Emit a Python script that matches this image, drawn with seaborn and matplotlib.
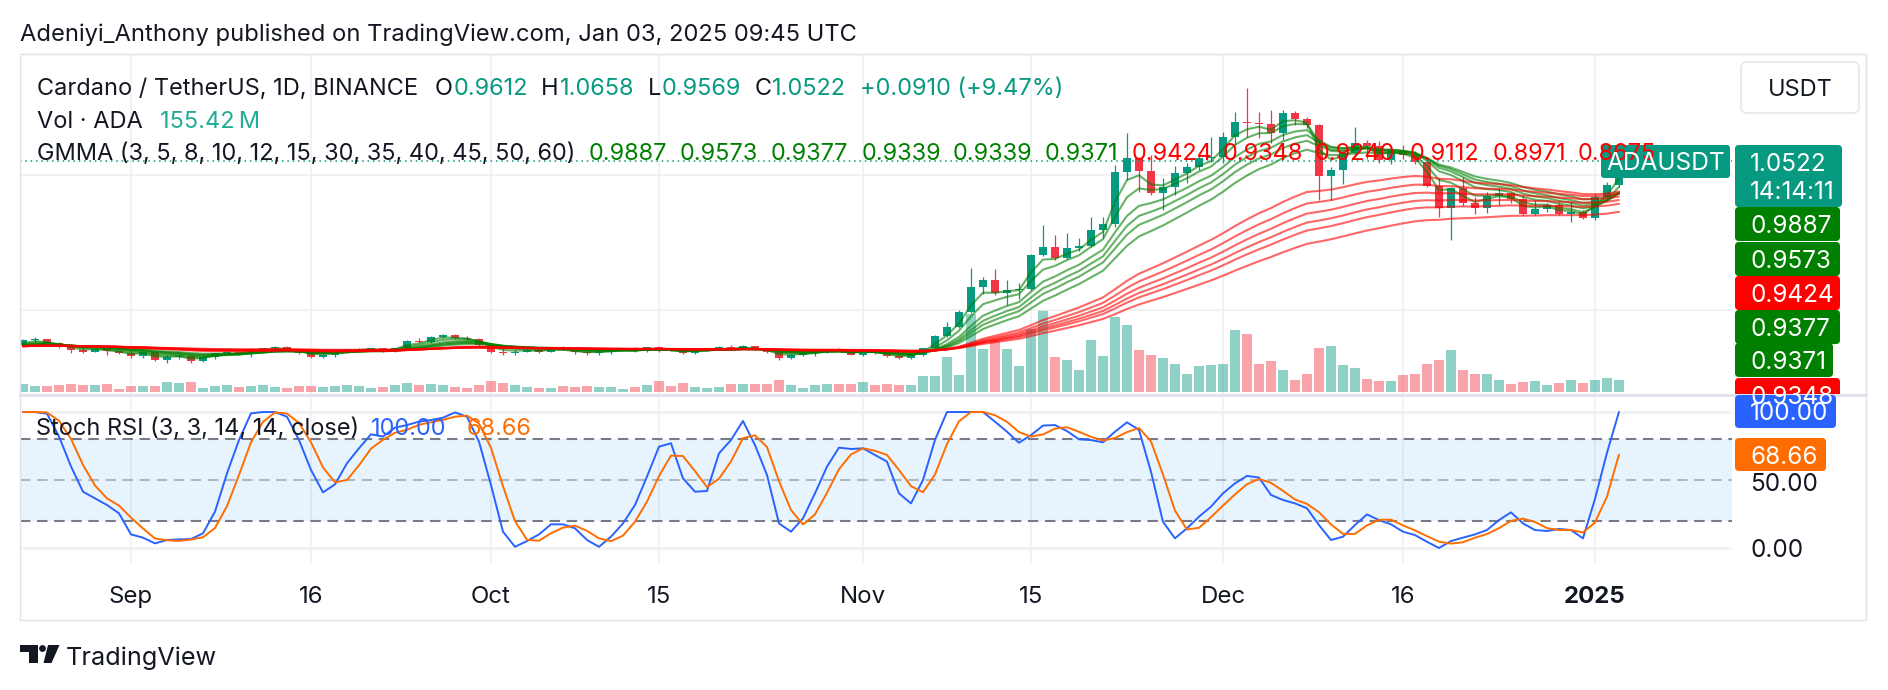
import numpy as np
import pandas as pd
import matplotlib
matplotlib.use("Agg")
import matplotlib.pyplot as plt
from matplotlib.patches import Rectangle, FancyBboxPatch, Polygon, Circle
import seaborn as sns

sns.set_theme(style="white")
plt.rcParams['font.family'] = ['Inter', 'DejaVu Sans']

# ---------------- data ----------------
start_date = "2024-08-23"
opens = [0.370, 0.389, 0.392, 0.378, 0.362, 0.352, 0.345, 0.357, 0.347,
         0.341, 0.328, 0.344, 0.314, 0.327, 0.330, 0.311, 0.325, 0.340, 0.343,
         0.339, 0.354, 0.358, 0.364, 0.354, 0.340, 0.326, 0.335, 0.343, 0.354,
         0.357, 0.359, 0.347, 0.358, 0.386, 0.382, 0.401, 0.407, 0.397, 0.391,
         0.372, 0.346, 0.340, 0.346, 0.352, 0.346, 0.357, 0.353, 0.343, 0.339,
         0.346, 0.350, 0.354, 0.349, 0.362, 0.352, 0.349, 0.340, 0.351, 0.354,
         0.362, 0.355, 0.365, 0.354, 0.346, 0.321, 0.333, 0.339, 0.345, 0.355,
         0.350, 0.335, 0.349, 0.342, 0.330, 0.322, 0.333, 0.358, 0.404, 0.438,
         0.494, 0.584, 0.611, 0.564, 0.575, 0.578, 0.704, 0.735, 0.691, 0.728,
         0.738, 0.796, 0.819, 1.012, 1.062, 1.016, 0.932, 0.957, 1.006, 1.028,
         1.062, 1.068, 1.142, 1.198, 1.191, 1.188, 1.157, 1.231, 1.206, 1.185,
         0.996, 1.019, 1.083, 1.117, 1.108, 1.056, 1.090, 1.074, 1.049, 0.959,
         0.877, 0.951, 0.898, 0.877, 0.923, 0.932, 0.910, 0.855, 0.873, 0.889,
         0.855, 0.864, 0.840, 0.920, 0.9612]
highs = [0.392, 0.401, 0.394, 0.383, 0.370, 0.362, 0.360, 0.360, 0.351,
         0.350, 0.348, 0.346, 0.333, 0.336, 0.333, 0.328, 0.342, 0.346, 0.348,
         0.358, 0.361, 0.367, 0.367, 0.357, 0.343, 0.338, 0.345, 0.357, 0.360,
         0.361, 0.361, 0.360, 0.389, 0.395, 0.403, 0.411, 0.410, 0.402, 0.396,
         0.379, 0.358, 0.350, 0.355, 0.358, 0.360, 0.367, 0.357, 0.350, 0.349,
         0.352, 0.356, 0.362, 0.364, 0.368, 0.358, 0.351, 0.353, 0.357, 0.365,
         0.370, 0.370, 0.368, 0.358, 0.350, 0.336, 0.342, 0.348, 0.357, 0.359,
         0.353, 0.352, 0.352, 0.345, 0.335, 0.337, 0.360, 0.407, 0.457, 0.500,
         0.654, 0.623, 0.650, 0.611, 0.600, 0.706, 0.815, 0.778, 0.784, 0.765,
         0.846, 0.846, 1.037, 1.154, 1.068, 1.074, 0.988, 1.033, 1.043, 1.074,
         1.142, 1.160, 1.235, 1.321, 1.235, 1.241, 1.240, 1.237, 1.216, 1.190,
         1.031, 1.085, 1.179, 1.130, 1.125, 1.100, 1.111, 1.088, 1.056, 0.988,
         0.957, 0.991, 0.920, 0.938, 0.951, 0.938, 0.926, 0.907, 0.895, 0.901,
         0.901, 0.870, 0.932, 0.975, 1.0658]
lows = [0.366, 0.383, 0.375, 0.360, 0.342, 0.340, 0.343, 0.333, 0.338,
        0.323, 0.324, 0.311, 0.305, 0.319, 0.302, 0.308, 0.318, 0.334, 0.334,
        0.327, 0.350, 0.352, 0.351, 0.338, 0.324, 0.322, 0.326, 0.341, 0.349,
        0.353, 0.344, 0.345, 0.356, 0.377, 0.378, 0.396, 0.394, 0.389, 0.368,
        0.342, 0.333, 0.333, 0.344, 0.342, 0.344, 0.352, 0.337, 0.333, 0.332,
        0.336, 0.348, 0.343, 0.346, 0.346, 0.348, 0.337, 0.337, 0.347, 0.350,
        0.352, 0.354, 0.352, 0.340, 0.313, 0.318, 0.330, 0.330, 0.342, 0.347,
        0.332, 0.331, 0.338, 0.326, 0.318, 0.320, 0.329, 0.352, 0.400, 0.432,
        0.488, 0.561, 0.556, 0.519, 0.540, 0.574, 0.700, 0.687, 0.690, 0.720,
        0.735, 0.766, 0.809, 0.981, 0.938, 0.926, 0.870, 0.926, 0.969, 1.019,
        1.049, 1.043, 1.111, 1.142, 1.136, 1.117, 1.130, 1.185, 1.173, 0.907,
        0.907, 0.966, 1.068, 1.060, 1.043, 1.040, 1.060, 1.040, 0.954, 0.846,
        0.759, 0.886, 0.855, 0.861, 0.889, 0.898, 0.852, 0.852, 0.864, 0.852,
        0.827, 0.836, 0.833, 0.914, 0.9569]
closes = [0.389, 0.392, 0.378, 0.362, 0.352, 0.345, 0.357, 0.347, 0.341,
          0.328, 0.344, 0.314, 0.327, 0.330, 0.311, 0.325, 0.340, 0.343, 0.339,
          0.354, 0.358, 0.364, 0.354, 0.340, 0.326, 0.335, 0.343, 0.354, 0.357,
          0.359, 0.347, 0.358, 0.386, 0.382, 0.401, 0.407, 0.397, 0.391, 0.372,
          0.346, 0.340, 0.346, 0.352, 0.346, 0.357, 0.353, 0.343, 0.339, 0.346,
          0.350, 0.354, 0.349, 0.362, 0.352, 0.349, 0.340, 0.351, 0.354, 0.362,
          0.355, 0.365, 0.354, 0.346, 0.321, 0.333, 0.339, 0.345, 0.355, 0.350,
          0.335, 0.349, 0.342, 0.330, 0.322, 0.333, 0.358, 0.404, 0.438, 0.494,
          0.584, 0.611, 0.564, 0.575, 0.578, 0.704, 0.735, 0.691, 0.728, 0.738,
          0.796, 0.819, 1.012, 1.062, 1.016, 0.932, 0.957, 1.006, 1.028, 1.062,
          1.068, 1.142, 1.198, 1.191, 1.188, 1.157, 1.231, 1.206, 1.185, 0.996,
          1.019, 1.083, 1.117, 1.108, 1.056, 1.090, 1.074, 1.049, 0.959, 0.877,
          0.951, 0.898, 0.877, 0.923, 0.932, 0.910, 0.855, 0.873, 0.889, 0.855,
          0.864, 0.840, 0.920, 0.9612, 1.0522]
volumes_m = [102, 76, 76, 89, 102, 89, 89, 102, 36,
             76, 76, 76, 129, 116, 129, 49, 76, 89, 63,
             76, 89, 63, 49, 76, 76, 63, 76, 89, 76,
             49, 63, 89, 116, 89, 102, 89, 63, 49, 89,
             142, 116, 89, 63, 49, 49, 76, 63, 76, 63,
             63, 36, 63, 89, 142, 76, 116, 63, 49, 63,
             102, 102, 102, 102, 156, 89, 49, 89, 102, 102,
             102, 129, 89, 102, 89, 89, 209, 209, 466, 222,
             1037, 572, 692, 572, 346, 838, 1091, 466, 426, 293,
             692, 479, 998, 891, 559, 492, 452, 372, 239, 346,
             359, 372, 825, 771, 372, 412, 293, 160, 239, 585,
             612, 359, 319, 173, 146, 146, 226, 239, 372, 426,
             559, 293, 239, 239, 160, 106, 133, 146, 93, 120,
             160, 120, 160, 186, 155.42]
stoch_k = [100, 100, 98.8, 82, 60, 41.4, 36.5, 31.6, 25.5,
           10, 7.6, 3.4, 5.9, 6.3, 6.6, 10.8, 26.7, 54.9, 79.4,
           99, 100, 100, 96.5, 79.4, 57.4, 40.9, 46.8, 62.3, 73.3,
           83.6, 81.9, 88.5, 90.4, 92.9, 94.1, 95.8, 99.7, 96.5, 78.2,
           46.3, 12, 0.9, 5.1, 10, 17.4, 17.4, 14.5, 5.9, 0.9,
           8.3, 18.1, 31.6, 52.5, 74.5, 77, 51.2, 41.4, 41.9, 69.6,
           79.4, 93.4, 75.7, 53.7, 18.1, 12, 21.8, 40.2, 59.8, 73.8,
           72.8, 73.3, 68.4, 63.5, 40.2, 32.8, 50, 79.4, 100, 100,
           100, 100, 92.9, 85.5, 77.4, 83, 90, 90.4, 86, 79.9,
           79.4, 77.7, 85.5, 92.4, 86.8, 56.1, 19.3, 7.1, 14.5, 23,
           30.4, 40.2, 47.5, 53, 51.8, 39, 35.3, 32.8, 29.2, 16.9,
           5.9, 8.3, 16.9, 24.7, 20.5, 17.4, 12, 9.5, 4.6, 0,
           5.1, 7.6, 10, 13.2, 20.5, 26.2, 18.1, 13.2, 12.5, 14,
           13.2, 7.1, 36, 70, 100]
ema_seed = 0.365
gmma_fast = [3, 5, 8, 10, 12, 15]
gmma_slow = [30, 35, 40, 45, 50, 60]
gmma_labels = ["0.9887", "0.9573", "0.9377", "0.9339", "0.9339", "0.9371",
               "0.9424", "0.9348", "0.9240", "0.9112", "0.8971", "0.8675"]
gmma_label_colors = ["#008000"] * 6 + ["#FF0000"] * 6
tick_dates = ["2024-09-01", "2024-09-16", "2024-10-01", "2024-10-15", "2024-11-01",
              "2024-11-15", "2024-12-01", "2024-12-16", "2025-01-01"]
tick_labels = ["Sep", "16", "Oct", "15", "Nov", "15", "Dec", "16", "2025"]
axis_tags = [("0.9887", "#008000"), ("0.9573", "#008000"), ("0.9424", "#FF0000"),
             ("0.9377", "#008000"), ("0.9371", "#008000"), ("0.9348", "#FF0000")]
last_close = 1.0522

# ---------------- derived ----------------
ref = pd.Timestamp("2024-09-01")
dates = pd.date_range(start_date, periods=len(closes), freq="D")
x = np.asarray((dates - ref).days, dtype=float)
o = np.array(opens); h = np.array(highs); l = np.array(lows); c = np.array(closes)
up = c >= o
UP, DN = "#089981", "#F23645"
cols = np.where(up, UP, DN)
cser = pd.Series([ema_seed] + closes)
k = np.array(stoch_k)
d = pd.Series(k).rolling(3, min_periods=1).mean().values
tick_x = [(pd.Timestamp(t) - ref).days for t in tick_dates]

W, H = 1888, 690
fig = plt.figure(figsize=(W / 100, H / 100), dpi=100)
fig.patch.set_facecolor("white")

def rect(x0, y0, x1, y1):
    return [x0 / W, 1 - y1 / H, (x1 - x0) / W, (y1 - y0) / H]

PX0, PX1 = 20, 1732
XL = (-9.25, 133.42)
GRID = "#eef0f4"

# volume axis (behind)
axv = fig.add_axes(rect(PX0, 54, PX1, 394))
axv.axis("off")
axv.set_xlim(*XL)
kpx = 13.3
axv.set_ylim(-2 * kpx, 338 * kpx)
for tx in tick_x:
    axv.axvline(tx, color=GRID, lw=1.2, zorder=0)
axv.bar(x, volumes_m, width=0.82, color=cols, alpha=0.45, linewidth=0, zorder=1)

# price axis
ax = fig.add_axes(rect(PX0, 54, PX1, 394))
ax.patch.set_alpha(0)
ax.set_xlim(*XL)
ax.set_ylim(0.18889, 1.4481)
for gy in (1.0, 0.5):
    ax.axhline(gy, color=GRID, lw=1.2, zorder=0)
body = np.maximum(np.abs(c - o), 0.0025)
ax.vlines(x, l, h, colors=cols, linewidth=0.9, zorder=2)
ax.bar(x, body, bottom=np.minimum(o, c), width=0.72, color=cols, linewidth=0, zorder=3)
for n in gmma_fast:
    e = cser.ewm(span=n, adjust=False).mean().values[1:]
    sns.lineplot(x=x, y=e, ax=ax, color="#008000", alpha=0.6, linewidth=1.5, zorder=4, legend=False)
for n in gmma_slow:
    e = cser.ewm(span=n, adjust=False).mean().values[1:]
    sns.lineplot(x=x, y=e, ax=ax, color="#FF0000", alpha=0.6, linewidth=1.5, zorder=4, legend=False)
ax.axhline(last_close, color=UP, lw=1.1, ls=(0, (1, 2.5)), zorder=5)
ax.axis("off")

# stoch axis
axs = fig.add_axes(rect(PX0, 395, PX1, 563))
axs.set_xlim(*XL)
axs.set_ylim(-11.03, 112.5)
for tx in tick_x:
    axs.axvline(tx, color=GRID, lw=1.2, zorder=0)
axs.axhline(100, color=GRID, lw=1.8, zorder=0)
axs.axhline(0, color=GRID, lw=1.8, zorder=0)
axs.axhspan(20, 80, color="#2196F3", alpha=0.1, lw=0, zorder=0.5)
axs.axhline(80, color="#787B86", lw=1.5, ls=(0, (5, 3.2)), zorder=1)
axs.axhline(20, color="#787B86", lw=1.5, ls=(0, (5, 3.2)), zorder=1)
axs.axhline(50, color="#787B86", lw=1.5, alpha=0.5, ls=(0, (5, 3.2)), zorder=1)
sns.lineplot(x=x, y=k, ax=axs, color="#2962FF", linewidth=1.4, zorder=3, legend=False)
sns.lineplot(x=x, y=d, ax=axs, color="#FF6D00", linewidth=1.4, zorder=3, legend=False)
axs.axis("off")

# overlay in pixel coordinates
ov = fig.add_axes([0, 0, 1, 1])
ov.set_xlim(0, W)
ov.set_ylim(H, 0)
ov.axis("off")
ov.patch.set_alpha(0)

renderer = fig.canvas.get_renderer()
TXT = "#131722"

def put(px, py, s, color=TXT, size=15.0, ha="left", weight="normal", clip=None):
    spx = size * 100 / 72
    t = ov.text(px, py + 0.36 * spx, s, color=color, fontsize=size, ha=ha, va="baseline",
                fontweight=weight, zorder=20)
    if clip is not None:
        t.set_clip_path(clip)
    return t

def width_of(s, size, weight="normal"):
    t = ov.text(0, 0, s, fontsize=size, fontweight=weight)
    wdt = t.get_window_extent(renderer=renderer).width
    t.remove()
    return wdt

def fit(s, target, base=15.0, weight="normal"):
    return base * target / width_of(s, base, weight)

# frame and separators
ov.add_patch(Rectangle((20, 54), 1846, 566, fill=False, ec="#e0e3eb", lw=1.0, zorder=1))
ov.plot([20, 1866], [394.5, 394.5], color="#e0e3eb", lw=2.2, zorder=1)

# title
title = "Adeniyi_Anthony published on TradingView.com, Jan 03, 2025 09:45 UTC"
put(20, 32, title, size=fit(title, 836))

LS = fit("GMMA (3, 5, 8, 10, 12, 15, 30, 35, 40, 45, 50, 60)", 540)
TS = LS * 1.03

def runs(px, py, items):
    cur = px
    for s, col, gap in items:
        t = put(cur, py, s, color=col, size=LS)
        cur += t.get_window_extent(renderer=renderer).width + gap

sp = width_of(" ", LS)
g = sp * 1.6 + 2.5
runs(37, 87, [("Cardano / TetherUS, 1D, BINANCE", TXT, sp * 1.6 + 6),
              ("O", TXT, 1), ("0.9612", UP, g),
              ("H", TXT, 1), ("1.0658", UP, g),
              ("L", TXT, 1), ("0.9569", UP, g),
              ("C", TXT, 1), ("1.0522", UP, g),
              ("+0.0910 (+9.47%)", UP, 0)])
runs(37, 120, [("Vol \u00b7 ADA", TXT, sp * 1.6 + 7), ("155.42\u2009M", "#22ab94", 0)])
put(37, 152, "GMMA (3, 5, 8, 10, 12, 15, 30, 35, 40, 45, 50, 60)", size=LS)
gx = [589, 680, 771, 862, 953, 1045, 1132, 1223, 1315, 1410, 1493, 1578]
for xx, s, col in zip(gx, gmma_labels, gmma_label_colors):
    put(xx, 152, s, color=col, size=LS)
runs(36, 427, [("Stoch RSI (3, 3, 14, 14, close)", TXT, sp * 1.5 + 2),
               ("100.00", "#2962FF", sp * 1.5 + 10), ("68.66", "#FF6D00", 0)])

# x-axis labels
for tx, lab in zip(tick_x, tick_labels):
    px = PX0 + (tx - XL[0]) / (XL[1] - XL[0]) * (PX1 - PX0)
    put(px, 594, lab, size=LS * 1.02, ha="center", weight="bold" if lab == "2025" else "normal")

# symbol label on the pane
ov.add_patch(FancyBboxPatch((1601, 145), 129, 33, boxstyle="round,pad=0,rounding_size=3",
                            fc=UP, ec="none", zorder=15))
put(1665.5, 161.5, "ADAUSDT", color="white", size=LS * 1.04, ha="center")

# price scale tags
def tag(y0, y1, x1, col, clip=None):
    p = FancyBboxPatch((1735, y0), x1 - 1735, y1 - y0, boxstyle="round,pad=0,rounding_size=4",
                       fc=col, ec="none", zorder=15)
    ov.add_patch(p)
    if clip is not None:
        p.set_clip_path(clip)

tag(145, 207, 1842, UP)
put(1750, 162, "1.0522", color="white", size=TS)
put(1750, 190, "14:14:11", color="white", size=TS)
clip_rect = Rectangle((1732, 54), 134, 340, transform=ov.transData)
tops = [207, 242, 276, 310, 343, 378]
for (s, col), yt in zip(axis_tags, tops):
    tag(yt, yt + 34, 1840 if s != "0.9371" else 1833, col, clip=clip_rect)
    put(1750, yt + 17, s, color="white", size=TS, clip=clip_rect)

# USDT button
ov.add_patch(FancyBboxPatch((1741, 62), 118, 51, boxstyle="round,pad=0,rounding_size=6",
                            fc="white", ec="#e0e3eb", lw=1.0, zorder=15))
put(1800, 88, "USDT", size=LS, ha="center")

# stoch scale
tag(395, 428, 1836, "#2962FF")
put(1750, 411.5, "100.00", color="white", size=TS)
tag(438, 471, 1826, "#FF6D00")
put(1750, 455, "68.66", color="white", size=TS)
put(1750, 482, "50.00", size=TS)
put(1750, 548, "0.00", size=TS)

# TradingView logo
ov.add_patch(Polygon([(20, 645), (37.5, 645), (37.5, 663), (29, 663), (29, 652), (20, 652)],
                     closed=True, fc=TXT, ec="none", zorder=15))
ov.add_patch(Circle((42.5, 648.5), 3.4, fc=TXT, ec="none", zorder=15))
ov.add_patch(Polygon([(48, 645), (59.5, 645), (51.5, 663), (43.5, 663)], closed=True,
                     fc=TXT, ec="none", zorder=15))
put(66, 656, "TradingView", size=fit("TradingView", 151))

fig.savefig("out.png", dpi=100, facecolor="white")
